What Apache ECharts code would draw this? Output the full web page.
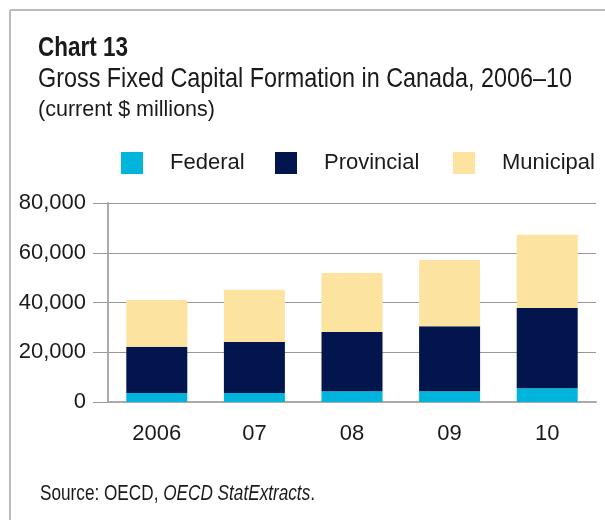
<!DOCTYPE html>
<html>
<head>
<meta charset="utf-8">
<script src="https://cdn.jsdelivr.net/npm/echarts@6/dist/echarts.min.js"></script>
<style>
  html, body { margin: 0; padding: 0; background: #fff; }
  #chart { width: 605px; height: 520px; }
</style>
</head>
<body>
<div id="chart"></div>
<script>
// data ($ millions)
const years = ["2006", "07", "08", "09", "10"];
const federal = [3600, 3600, 4300, 4300, 5500];
const provincial = [18600, 20500, 23800, 26200, 32300];
const municipal = [18800, 21000, 23800, 26600, 29400];
const yTicks = [0, 20000, 40000, 60000, 80000];

const FONT = "'Liberation Sans', Arial, sans-serif";

// the original uses a condensed face, so headline texts get squeezed to its widths
const ctx = document.createElement("canvas").getContext("2d");
function textWidth(txt, size, weight, style) {
  ctx.font = (style || "normal") + " " + (weight || "normal") + " " + size + "px " + FONT;
  return ctx.measureText(txt).width;
}
function squeezed(txt, x, y, size, target, weight) {
  return {
    type: "text",
    x: x,
    y: y,
    scaleX: target / textWidth(txt, size, weight),
    style: { text: txt, fontFamily: FONT, fontSize: size, fontWeight: weight || "normal", fill: "#1a1a1a", verticalAlign: "top" },
  };
}

const srcA = "Source: OECD, ";
const srcB = "OECD StatExtracts";
const srcW = textWidth(srcA, 22) + textWidth(srcB, 22, "normal", "italic") + textWidth(".", 22);

const myChart = echarts.init(document.getElementById("chart"));

function legendAt(name, left) {
  return {
    data: [name],
    left: left,
    top: 152,
    itemWidth: 22,
    itemHeight: 22,
    icon: "rect",
    selectedMode: false,
    padding: 0,
    textStyle: { fontFamily: FONT, fontSize: 22, color: "#1a1a1a", padding: [0, 0, 0, 22] },
  };
}

const option = {
  animation: false,
  textStyle: { fontFamily: FONT },
  legend: [legendAt("Federal", 121), legendAt("Provincial", 275), legendAt("Municipal", 453)],
  grid: { left: 108, right: 9, top: 203, bottom: 118 },
  xAxis: {
    type: "category",
    data: years,
    axisLine: { show: true, lineStyle: { color: "#aaa", width: 2 } },
    axisTick: { show: false },
    axisLabel: { fontFamily: FONT, fontSize: 22, color: "#1a1a1a", margin: 21 },
  },
  yAxis: {
    type: "value",
    min: 0,
    max: 80000,
    interval: 20000,
    axisLine: { show: true, lineStyle: { color: "#aaa", width: 2 } },
    axisTick: { show: true, length: 15, lineStyle: { color: "#999" } },
    splitLine: { lineStyle: { color: "#999", width: 1 } },
    axisLabel: {
      fontFamily: FONT, fontSize: 22, color: "#1a1a1a", margin: 22,
      formatter: (v) => (yTicks.includes(v) ? v.toLocaleString("en-US") : ""),
    },
  },
  series: [
    { name: "Federal", type: "bar", stack: "t", data: federal, barWidth: "62.5%", itemStyle: { color: "#00b4dc" } },
    { name: "Provincial", type: "bar", stack: "t", data: provincial, itemStyle: { color: "#02154d" } },
    { name: "Municipal", type: "bar", stack: "t", data: municipal, itemStyle: { color: "#fde3a0" } },
  ],
  graphic: [
    { type: "line", shape: { x1: 10, y1: 10, x2: 605, y2: 10 }, style: { stroke: "#bbb", lineWidth: 2 } },
    { type: "line", shape: { x1: 10, y1: 10, x2: 10, y2: 520 }, style: { stroke: "#bbb", lineWidth: 2 } },
    squeezed("Chart 13", 38, 35, 27, 90, "bold"),
    squeezed("Gross Fixed Capital Formation in Canada, 2006\u201310", 38, 65, 28, 534),
    squeezed("(current $ millions)", 38, 99, 22, 177),
    {
      type: "text",
      x: 40,
      y: 483,
      scaleX: 275 / srcW,
      style: {
        text: srcA + "{i|" + srcB + "}.",
        fontFamily: FONT, fontSize: 22, fill: "#1a1a1a", verticalAlign: "top",
        rich: { i: { fontFamily: FONT, fontSize: 22, fontStyle: "italic", fill: "#1a1a1a" } },
      },
    },
  ],
};

myChart.setOption(option);
</script>
</body>
</html>
